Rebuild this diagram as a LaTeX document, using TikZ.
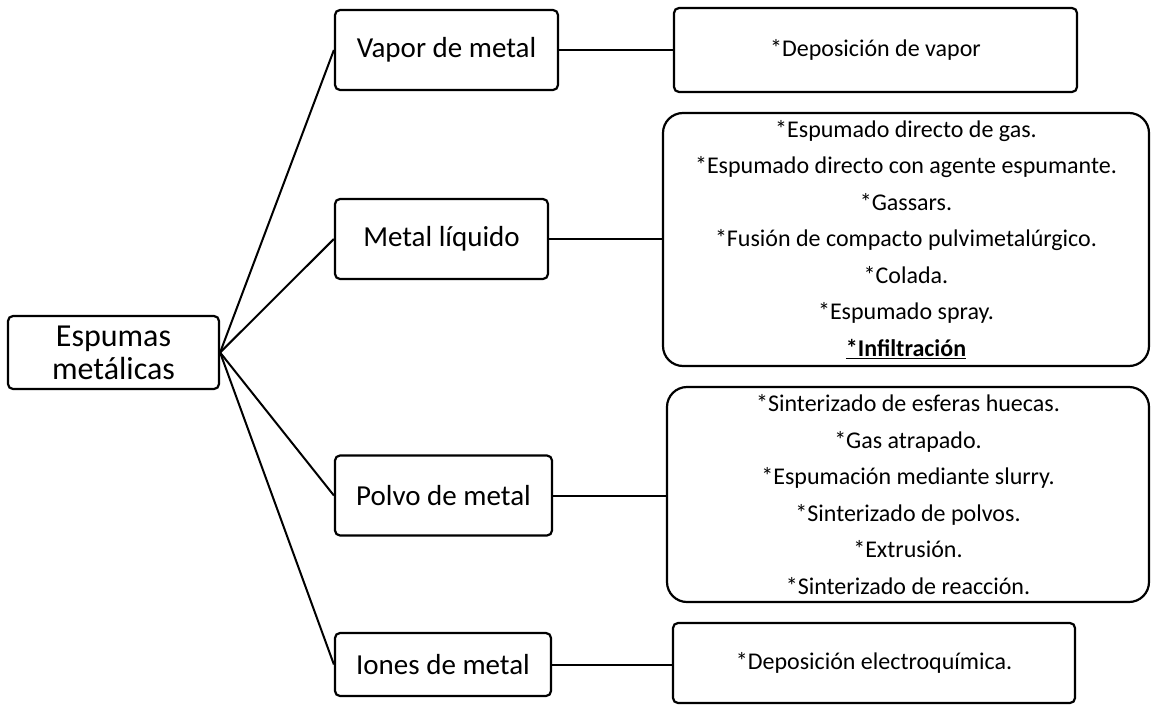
\documentclass[tikz,border=0pt]{standalone}
\usepackage{fontspec}
\setmainfont{Carlito}
\usetikzlibrary{positioning}

\tikzset{
  caja/.style={draw, line width=2.2pt, rounded corners=5pt, align=center, inner sep=0pt,
    minimum height=80pt, font=\fontsize{29}{33}\selectfont},
  lista/.style={draw, line width=2.2pt, rounded corners=20pt, align=center, inner sep=0pt,
    font=\fontsize{24}{36.5}\selectfont},
  rama/.style={line width=2pt},
}

\begin{document}
\begin{tikzpicture}[x=1pt,y=-1pt]
    \useasboundingbox (0,0) rectangle (1151,704);

    % root
    \node[caja, font=\fontsize{32}{33}\selectfont, minimum width=211pt, minimum height=73pt]
        (esp) at (113.5,352.5) {Espumas\\metálicas};

    % routes
    \node[caja, minimum width=223pt] (vap) at (446.5,50) {Vapor de metal};
    \node[caja, minimum width=213pt] (liq) at (441.5,239) {Metal líquido};
    \node[caja, minimum width=217pt] (pol) at (443.5,495.5) {Polvo de metal};
    \node[caja, minimum width=216pt, minimum height=63pt] (ion) at (443,664.5) {Iones de metal};

    % methods
    \node[caja, font=\fontsize{24}{30}\selectfont, minimum width=403pt, minimum height=84pt]
        (depv) at (875.5,50) {*Deposición de vapor};
    \node[lista, minimum width=486pt, minimum height=253pt] (mliq) at (906,239.5)
        {*Espumado directo de gas.\\
         *Espumado directo con agente espumante.\\
         *Gassars.\\
         *Fusión de compacto pulvimetalúrgico.\\
         *Colada.\\
         *Espumado spray.\\
         \underline{\textbf{*Infiltración}}};
    \node[lista, minimum width=482pt, minimum height=215pt] (mpol) at (908,494.5)
        {*Sinterizado de esferas huecas.\\
         *Gas atrapado.\\
         *Espumación mediante slurry.\\
         *Sinterizado de polvos.\\
         *Extrusión.\\
         *Sinterizado de reacción.};
    \node[caja, font=\fontsize{24}{30}\selectfont, minimum width=402pt]
        (elec) at (874,663) {*Deposición electroquímica.};

    \draw[rama] (esp.east) -- (vap.west);
    \draw[rama] (esp.east) -- (liq.west);
    \draw[rama] (esp.east) -- (pol.west);
    \draw[rama] (esp.east) -- (ion.west);

    \draw[rama] (vap.east) -- (depv.west);
    \draw[rama] (liq.east) -- (liq.east -| mliq.west);
    \draw[rama] (pol.east) -- (pol.east -| mpol.west);
    \draw[rama] (ion.east) -- (ion.east -| elec.west);
\end{tikzpicture}
\end{document}
